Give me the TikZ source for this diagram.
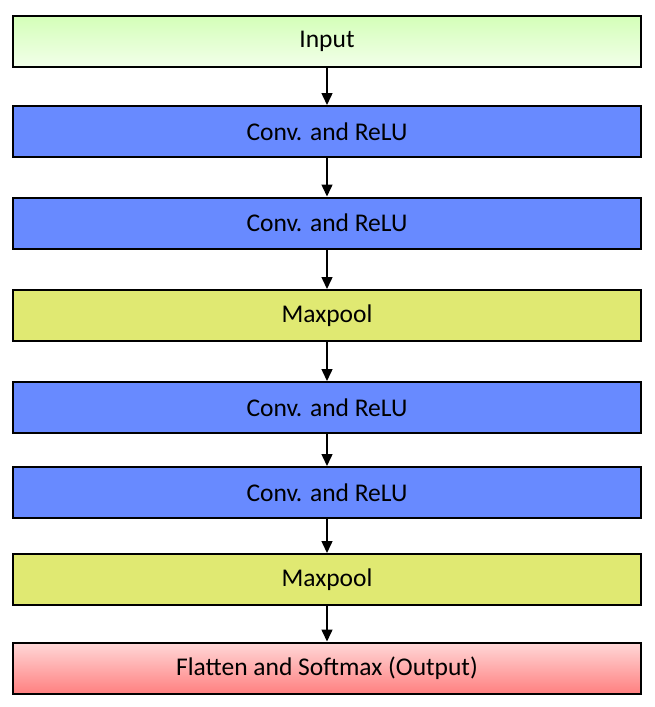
\documentclass[tikz,border=0pt]{standalone}
\usepackage{fontspec}
\setmainfont{Carlito}
\usepackage{tikz}
\usetikzlibrary{arrows.meta}
\usepackage{xcolor}

\definecolor{convblue}{RGB}{104,138,255}
\definecolor{poolyellow}{RGB}{224,233,114}
\definecolor{intop}{RGB}{212,255,184}
\definecolor{inbot}{RGB}{242,255,234}
\definecolor{outtop}{RGB}{255,216,216}
\definecolor{outbot}{RGB}{255,128,128}

\tikzset{
    layer/.style={draw, line width=2pt, minimum width=628pt, minimum height=51pt,
        font=\fontsize{25.5}{30}\selectfont, inner sep=0pt},
    conv/.style={layer, fill=convblue},
    pool/.style={layer, fill=poolyellow},
    flow/.style={-{Triangle[length=12pt,width=11pt]}, line width=1.5pt},
}

\begin{document}
\begin{tikzpicture}[x=1pt, y=1pt]
            \useasboundingbox (0,0) rectangle (654,-707);
            \node[layer, top color=intop, bottom color=inbot] (In) at (327,-41.5)
                {Input};
            \node[conv, below of=In, node distance=90pt] (C1) {Conv. and ReLU};
            \node[conv, below of=C1, node distance=91.5pt] (C2) {Conv. and ReLU};
            \node[pool, below of=C2, node distance=92.5pt] (P1) {Maxpool};
            \node[conv, below of=P1, node distance=92pt] (C3) {Conv. and ReLU};
            \node[conv, below of=C3, node distance=85pt] (C4) {Conv. and ReLU};
            \node[pool, below of=C4, node distance=87pt] (P2) {Maxpool};
            \node[layer, top color=outtop, bottom color=outbot, below of=P2,
                node distance=88.5pt] (Out) {Flatten and Softmax (Output)};
            \draw[flow] (In) -- (C1);
            \draw[flow] (C1) -- (C2);
            \draw[flow] (C2) -- (P1);
            \draw[flow] (P1) -- (C3);
            \draw[flow] (C3) -- (C4);
            \draw[flow] (C4) -- (P2);
            \draw[flow] (P2) -- (Out);
        \end{tikzpicture}
\end{document}
